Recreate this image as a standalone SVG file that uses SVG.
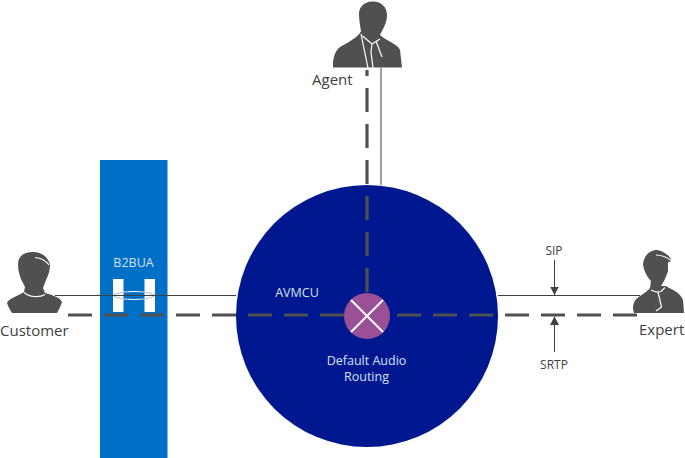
<svg xmlns="http://www.w3.org/2000/svg" width="685" height="458" viewBox="0 0 685 458">
<style>
.fig{fill:#505050}
.cut{fill:none;stroke:#fff;stroke-width:1.2}
.thin{fill:none;stroke:#404040;stroke-width:1}
.dash{fill:none;stroke:#505050;stroke-width:3.2;stroke-dasharray:24 12}
.lbl{font-family:"Open Sans","Noto Sans",sans-serif;font-size:15px;fill:#404040}
.sm{font-family:"Open Sans","Noto Sans",sans-serif;font-size:12px;fill:#404040;text-anchor:middle}
.in{font-family:"Open Sans","Noto Sans",sans-serif;font-size:12.5px;fill:#d5e0f5;text-anchor:middle}
</style>
<defs><marker id="arr" markerWidth="10" markerHeight="10" refX="8.500" refY="4.500" orient="auto" markerUnits="userSpaceOnUse"><path d="M0 0L8.500 4.500L0 9Z" fill="#404040"/></marker></defs>
<rect width="685" height="458" fill="#fff"/>
<g id="b2bua-band"><rect x="100" y="160" width="67.500" height="298" fill="#0070c6"/></g>
<g id="avmcu-circle"><circle cx="367" cy="316" r="131" fill="#00188f"/></g>
<g id="b2bua">
<rect x="113" y="279" width="10.500" height="33" fill="#fff"/>
<rect x="144.500" y="279" width="10.500" height="33" fill="#fff"/>
<ellipse cx="134" cy="295.500" rx="21" ry="4" fill="none" stroke="#fff" stroke-width="1"/>
<path d="M113 295.500C118 292.500 124 292 128 291.500M155 295.500C150 292.500 144 292 140 291.500M113 295.500C118 298.500 124 299 128 299.500M155 295.500C150 298.500 144 299 140 299.500" fill="none" stroke="#7f8c99" stroke-width=".6"/>
<text class="in" x="133.500" y="267">B2BUA</text>
</g>
<g id="connectors">
<path class="thin" d="M55 295.500H236M498 295.500H640M381 68V185M100 295.500H167.500"/>
<path class="dash" d="M68 315H345"/>
<path class="dash" d="M397 315H640"/>
<path class="dash" d="M367 292V70"/>
<path class="thin" d="M554.500 260V295" marker-end="url(#arr)"/>
<path class="thin" d="M554.500 352V316.500" marker-end="url(#arr)"/>
</g>
<g id="avmcu"><text class="in" x="297" y="297">AVMCU</text>
<text class="in" x="366.500" y="364.500">Default Audio</text><text class="in" x="366.500" y="381">Routing</text></g>
<g id="routing"><circle cx="367" cy="316" r="23" fill="#9b4f96"/><path d="M351 300L383 332M383 300L351 332" stroke="#fff" stroke-width="2" fill="none"/></g>
<g id="customer">
<path class="fig" d="M18 264C18 256 24 252 33 252C42 252 49 258 50 265C50 271 48 276 46 280C45 283 44 285 43 288L45 293C52 295 60 297 62 302C61 306 59 309 57 313H12C10 310 8 306 7 303C9 298 18 296 24 292L25 287L23 283C20 278 18 271 18 264Z"/>
<path class="cut" d="M24 292.500C29 297 39 298 45 294.500M35 257.500C41 258 46 261 49 265"/>
<text class="lbl" x="0" y="336">Customer</text>
</g>
<g id="agent">
<path class="fig" d="M359 14C359 6 365 2 372 1.500C381 1 387 7 387 15C387 21 385 25 383 29L380 35C386 41 398 44 400 50L402 67.500H333L333 62C334 55 336 50 340 47C347 43 355 39 360 33L361 31C360 25 359 20 359 14Z"/>
<path class="cut" d="M361 34L368 68M362.500 36L372 44L380 39M372 44L371 52L373 68M376 41L382 57"/>
<text class="lbl" x="312" y="85">Agent</text>
</g>
<g id="expert">
<path class="fig" d="M643 265C643 257 649 250 657 250C664 251 670 256 672 261L668 262L668 271C666 277 664 282 661 286L666 286C672 290 680 292 683 300L684 313H634L633 309C633 303 635 299 640 296C644 293 648 291 650 288L651 281C647 277 644 271 643 265Z"/>
<path class="cut" d="M651 290L656 292L661 291.500L665 287.500M658 292L661.500 307L656 311M656 255C662 255 668 258 672 261"/>
<text class="lbl" x="639" y="335">Expert</text>
</g>
<g id="labels"><text class="sm" x="554" y="254.500">SIP</text><text class="sm" x="554" y="368.500">SRTP</text></g>
</svg>
